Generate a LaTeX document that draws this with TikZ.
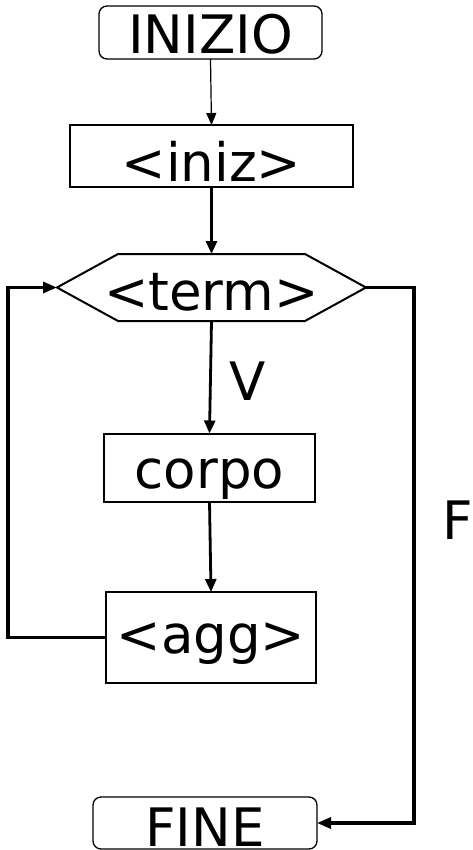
\documentclass[tikz,border=0pt]{standalone}
\usepackage{fontspec}
\setmainfont{DejaVu Sans}
\usetikzlibrary{arrows.meta}
\begin{document}
\begin{tikzpicture}[x=1pt,y=-1pt,
  lab/.style={font=\fontsize{53}{58}\selectfont, inner sep=0pt, outer sep=0pt, text depth=0pt},
  term/.style={lab, draw, rounded corners=8pt, line width=1.3pt},
  box/.style={lab, draw, line width=2pt},
  thinarr/.style={line width=1.2pt, -{Triangle[length=12pt,width=10pt]}},
  arr/.style={line width=2.8pt, -{Triangle[length=13pt,width=11pt]}},
  loopline/.style={line width=3.2pt, -{Triangle[length=14pt,width=11pt]}}
]
\useasboundingbox (0,0) rectangle (473,850);
\node[term, text height=43pt, minimum width=223pt, minimum height=53pt] (inizio) at (210.5,32.5) {INIZIO};
\node[box, line width=1.5pt, text height=52pt, minimum width=283pt, minimum height=62pt] (iniz) at (211.5,156) {<iniz>};
\node[lab, text height=45pt, minimum width=309pt, minimum height=67pt] (cond) at (211.5,287.5) {<term>};
\draw[line width=2pt, line join=miter]
  (cond.west) -- ([xshift=61pt]cond.north west) -- ([xshift=-61pt]cond.north east)
  -- (cond.east) -- ([xshift=-61pt]cond.south east) -- ([xshift=61pt]cond.south west) -- cycle;
\node[box, text height=41pt, minimum width=211pt, minimum height=68pt] (corpo) at (209.5,467.5) {corpo};
\node[box, text height=31pt, minimum width=210pt, minimum height=91pt] (agg) at (211,637.5) {<agg>};
\node[term, text height=46pt, minimum width=224pt, minimum height=52pt] (fine) at (205,823) {FINE};
\node[lab] (v) at (247.5,381) {V};
\node[lab] (f) at (457.5,520) {F};
\coordinate (lx) at (8,0);
\coordinate (rx) at (414,0);
\draw[thinarr] (inizio.south) -- (iniz.north);
\draw[arr] (iniz.south) -- (cond.north);
\draw[arr] (cond.south) -- (corpo.north);
\draw[arr] (corpo.south) -- (agg.north);
\draw[loopline] (agg.west) -- (agg.west -| lx) |- (cond.west);
\draw[loopline] (cond.east) -- (cond.east -| rx) |- (fine.east);
\end{tikzpicture}
\end{document}
